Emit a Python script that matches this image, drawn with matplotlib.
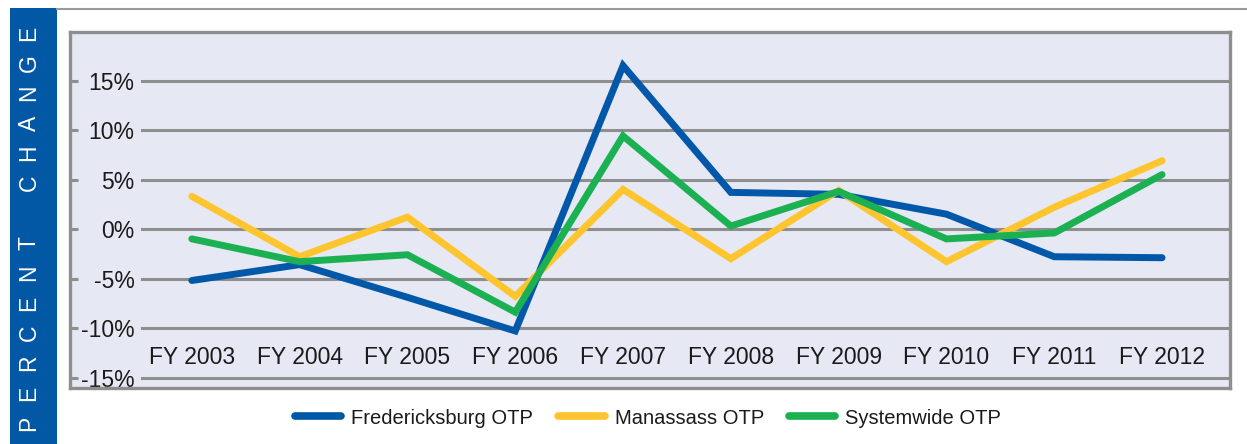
import matplotlib
matplotlib.use("Agg")
import matplotlib.pyplot as plt
from matplotlib.lines import Line2D
from matplotlib.patches import Rectangle

years = ["FY 2003", "FY 2004", "FY 2005", "FY 2006", "FY 2007",
         "FY 2008", "FY 2009", "FY 2010", "FY 2011", "FY 2012"]
fredericksburg = [-5.2, -3.6, -6.9, -10.3, 16.5, 3.7, 3.5, 1.5, -2.8, -2.9]
manassas = [3.3, -2.8, 1.2, -6.8, 4.0, -3.0, 3.9, -3.3, 2.2, 6.9]
systemwide = [-1.0, -3.3, -2.6, -8.4, 9.4, 0.3, 3.8, -1.0, -0.4, 5.5]
series_names = ["Fredericksburg OTP", "Manassass OTP", "Systemwide OTP"]
ytick_values = [-15, -10, -5, 0, 5, 10, 15]
ytick_labels = ["-15%", "-10%", "-5%", "0%", "5%", "10%", "15%"]
side_title = "PERCENT CHANGE"

BLUE = "#0258A8"
YELLOW = "#FEC52E"
GREEN = "#1BB153"
PANEL = "#E6E8F3"
GRID = "#8E8E8E"
FONT = "Liberation Sans"

W, H = 1247, 444
fig = plt.figure(figsize=(W / 100, H / 100), dpi=100)
fig.patch.set_facecolor("white")

# side banner with a spaced vertical title
band = Rectangle((10 / W, 0), 47 / W, 1 - 8 / H, transform=fig.transFigure,
                 facecolor="#0358A6", edgecolor="none", zorder=0)
fig.patches.append(band)
letters = list(side_title)
y_start, y_end = 423, 33
step = (y_start - y_end) / (len(letters) - 1)
for i, ch in enumerate(letters):
    if ch == " ":
        continue
    fig.text(29 / W, 1 - (y_start - i * step) / H, ch, rotation=90,
             color="white", fontsize=16.5, family=FONT,
             ha="center", va="center")

# thin rule along the top
fig.add_artist(Line2D([57 / W, 1.0], [1 - 9 / H, 1 - 9 / H],
                      transform=fig.transFigure, color="#9A9A9A", lw=1.5))

ax = fig.add_axes([70 / W, 56 / H, 1160 / W, 356 / H])
ax.set_facecolor(PANEL)
x = list(range(len(years)))

ax.set_xlim(-1.13, 9.63)
ax.set_ylim(-16.06, 19.9)

for v in ytick_values:
    ax.axhline(v, xmin=0.062, xmax=1, color=GRID, lw=2.2, zorder=1)

ax.plot(x, fredericksburg, color=BLUE, lw=5, solid_capstyle="round",
        solid_joinstyle="miter", zorder=3, label=series_names[0])
ax.plot(x, manassas, color=YELLOW, lw=5, solid_capstyle="round",
        solid_joinstyle="miter", zorder=4, label=series_names[1])
ax.plot(x, systemwide, color=GREEN, lw=5, solid_capstyle="round",
        solid_joinstyle="miter", zorder=5, label=series_names[2])

ax.set_yticks(ytick_values)
ax.set_yticklabels(ytick_labels, family=FONT, fontsize=16.5,
                   color="#1A1A1A")
ax.tick_params(axis="y", direction="in", length=6, width=2.2, color=GRID,
               pad=-46.5)
for lab in ax.get_yticklabels():
    lab.set_horizontalalignment("right")

ax.set_xticks(x)
ax.set_xticklabels(years, family=FONT, fontsize=16.5, color="#1A1A1A")
ax.tick_params(axis="x", length=0, pad=-30)

for side in ["left", "right", "top", "bottom"]:
    ax.spines[side].set_color(GRID)
    ax.spines[side].set_linewidth(2.4)

handles, labels = ax.get_legend_handles_labels()
leg = fig.legend(handles, labels, loc="center",
                 bbox_to_anchor=(648 / W, 1 - 418 / H), ncol=3,
                 frameon=False, handlelength=2.3, handletextpad=0.5,
                 columnspacing=1.25, borderpad=0, borderaxespad=0,
                 prop={"family": FONT, "size": 14.5})
for line in leg.get_lines():
    line.set_linewidth(5.5)
    line.set_solid_capstyle("round")
for t in leg.get_texts():
    t.set_color("#1A1A1A")

fig.savefig("out.png", dpi=100)
